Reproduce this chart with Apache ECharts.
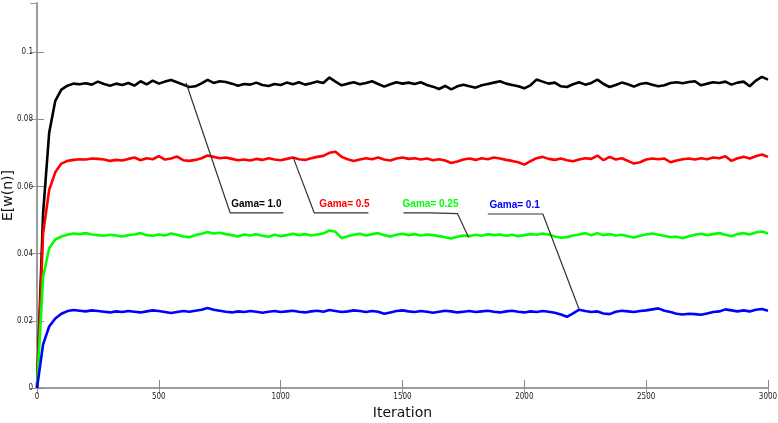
<!DOCTYPE html>
<html>
<head>
<meta charset="utf-8">
<script src="https://cdn.jsdelivr.net/npm/echarts@6/dist/echarts.min.js"></script>
<style>html,body{margin:0;padding:0;background:#fff}#c{width:778px;height:423px}</style>
</head>
<body>
<div id="c"></div>
<script>
const iterations = [
0,25,50,75,100,125,150,175,200,225,
250,275,300,325,350,375,400,425,450,475,
500,525,550,575,600,625,650,675,700,725,
750,775,800,825,850,875,900,925,950,975,
1000,1025,1050,1075,1100,1125,1150,1175,1200,1225,
1250,1275,1300,1325,1350,1375,1400,1425,1450,1475,
1500,1525,1550,1575,1600,1625,1650,1675,1700,1725,
1750,1775,1800,1825,1850,1875,1900,1925,1950,1975,
2000,2025,2050,2075,2100,2125,2150,2175,2200,2225,
2250,2275,2300,2325,2350,2375,2400,2425,2450,2475,
2500,2525,2550,2575,2600,2625,2650,2675,2700,2725,
2750,2775,2800,2825,2850,2875,2900,2925,2950,2975,
3000];

const gama10 = [
0,0.052,0.076,0.0855,0.0888,0.0900,0.0906,0.0904,0.0907,0.0903,
0.0912,0.0905,0.0900,0.0906,0.0902,0.0908,0.0900,0.0913,0.0904,0.0915,
0.0906,0.0912,0.0917,0.0910,0.0903,0.0896,0.0898,0.0907,0.0917,0.0908,
0.0913,0.0911,0.0906,0.0900,0.0905,0.0903,0.0909,0.0902,0.0899,0.0905,
0.0902,0.0909,0.0904,0.0910,0.0903,0.0907,0.0912,0.0908,0.0924,0.0912,
0.0901,0.0906,0.0910,0.0904,0.0908,0.0913,0.0905,0.0897,0.0904,0.0910,
0.0906,0.0909,0.0905,0.0910,0.0902,0.0897,0.0890,0.0899,0.0889,0.0898,
0.0903,0.0898,0.0894,0.0901,0.0905,0.0909,0.0913,0.0906,0.0902,0.0898,
0.0892,0.0901,0.0918,0.0912,0.0906,0.0909,0.0898,0.0896,0.0904,0.0910,
0.0903,0.0908,0.0918,0.0905,0.0896,0.0902,0.0909,0.0904,0.0897,0.0905,
0.0908,0.0903,0.0898,0.0901,0.0908,0.0910,0.0907,0.0911,0.0913,0.0901,
0.0906,0.0910,0.0908,0.0912,0.0903,0.0909,0.0912,0.0898,0.0915,0.0926,
0.0918];

const gama05 = [
0,0.046,0.059,0.0642,0.0668,0.0676,0.0679,0.0681,0.0680,0.0683,
0.0682,0.0680,0.0676,0.0679,0.0677,0.0682,0.0686,0.0678,0.0684,0.0681,
0.0690,0.0680,0.0683,0.0689,0.0678,0.0676,0.0679,0.0684,0.0692,0.0688,
0.0684,0.0686,0.0682,0.0678,0.0680,0.0677,0.0682,0.0679,0.0684,0.0680,
0.0678,0.0682,0.0686,0.0681,0.0679,0.0684,0.0688,0.0691,0.0700,0.0703,
0.0688,0.0681,0.0676,0.0680,0.0684,0.0681,0.0686,0.0680,0.0677,0.0683,
0.0686,0.0682,0.0684,0.0680,0.0683,0.0678,0.0681,0.0677,0.0670,0.0674,
0.0680,0.0683,0.0679,0.0684,0.0681,0.0686,0.0683,0.0679,0.0676,0.0672,
0.0665,0.0675,0.0684,0.0688,0.0682,0.0679,0.0683,0.0678,0.0675,0.0680,
0.0684,0.0682,0.0692,0.0678,0.0688,0.0680,0.0684,0.0676,0.0668,0.0672,
0.0680,0.0683,0.0681,0.0683,0.0672,0.0677,0.0681,0.0683,0.0680,0.0684,
0.0681,0.0686,0.0684,0.0690,0.0676,0.0684,0.0688,0.0683,0.0690,0.0695,
0.0688];

const gama025 = [
0,0.033,0.0416,0.0442,0.0451,0.0456,0.0460,0.0458,0.0461,0.0457,
0.0455,0.0453,0.0456,0.0454,0.0451,0.0455,0.0457,0.0461,0.0455,0.0453,
0.0457,0.0454,0.0460,0.0456,0.0451,0.0449,0.0455,0.0459,0.0464,0.0460,
0.0462,0.0458,0.0455,0.0451,0.0457,0.0454,0.0458,0.0453,0.0450,0.0456,
0.0452,0.0455,0.0459,0.0455,0.0458,0.0454,0.0457,0.0460,0.0469,0.0465,
0.0446,0.0452,0.0456,0.0459,0.0454,0.0458,0.0461,0.0455,0.0451,0.0456,
0.0459,0.0455,0.0458,0.0454,0.0457,0.0455,0.0452,0.0449,0.0445,0.0450,
0.0454,0.0452,0.0456,0.0453,0.0458,0.0455,0.0457,0.0453,0.0456,0.0452,
0.0455,0.0458,0.0456,0.0460,0.0457,0.0451,0.0447,0.0449,0.0454,0.0457,
0.0461,0.0455,0.0461,0.0455,0.0458,0.0454,0.0456,0.0452,0.0448,0.0453,
0.0457,0.0460,0.0456,0.0453,0.0449,0.0450,0.0446,0.0452,0.0456,0.0459,
0.0455,0.0458,0.0461,0.0456,0.0452,0.0458,0.0461,0.0457,0.0463,0.0466,
0.0460];

const gama01 = [
0,0.0130,0.0183,0.0207,0.0221,0.0229,0.0232,0.0230,0.0228,0.0231,
0.0229,0.0227,0.0225,0.0228,0.0226,0.0229,0.0227,0.0225,0.0228,0.0231,
0.0229,0.0226,0.0223,0.0226,0.0229,0.0227,0.0230,0.0233,0.0238,0.0233,
0.0230,0.0227,0.0225,0.0228,0.0226,0.0229,0.0227,0.0224,0.0227,0.0229,
0.0226,0.0228,0.0230,0.0227,0.0225,0.0228,0.0230,0.0227,0.0232,0.0229,
0.0226,0.0228,0.0231,0.0229,0.0226,0.0229,0.0227,0.0221,0.0225,0.0229,
0.0231,0.0228,0.0226,0.0229,0.0227,0.0224,0.0227,0.0230,0.0228,0.0225,
0.0227,0.0229,0.0226,0.0228,0.0230,0.0227,0.0225,0.0228,0.0230,0.0227,
0.0225,0.0228,0.0226,0.0229,0.0227,0.0224,0.0219,0.0212,0.0222,0.0233,
0.0229,0.0226,0.0228,0.0222,0.0220,0.0227,0.0230,0.0228,0.0226,0.0229,
0.0231,0.0234,0.0237,0.0230,0.0226,0.0221,0.0219,0.0221,0.0220,0.0218,
0.0222,0.0226,0.0228,0.0234,0.0231,0.0228,0.0231,0.0228,0.0233,0.0235,
0.0230];

const xTicks = [0, 500, 1000, 1500, 2000, 2500, 3000];
const yTicks = [0, 0.02, 0.04, 0.06, 0.08, 0.1];

const seriesNames = ['Gama= 1.0', 'Gama= 0.5', 'Gama= 0.25', 'Gama= 0.1'];
const seriesValues = [gama10, gama05, gama025, gama01];
const seriesColors = ['#000000', '#ff0000', '#00ff00', '#0000ff'];

// annotation leader paths (data coords), label placed at index labelAt
const annotPaths = [
  [[612, 0.0908], [793, 0.0521], [900, 0.0521], [1011, 0.0521]],
  [[1052, 0.0685], [1138, 0.0521], [1262, 0.0521], [1360, 0.0521]],
  [[1504, 0.0521], [1615, 0.0521], [1726, 0.0519], [1771, 0.0449]],
  [[1850, 0.0518], [1960, 0.0518], [2076, 0.0518], [2224, 0.0236]]
];
const annotLabelAt = [2, 2, 1, 1];

const chart = echarts.init(document.getElementById('c'), null, {renderer: 'canvas'});

const tickFont = "'Liberation Sans Narrow','DejaVu Sans Condensed','Liberation Sans',sans-serif";

const series = [];
seriesValues.forEach((vals, i) => {
  series.push({
    name: seriesNames[i],
    type: 'line',
    data: iterations.map((it, k) => [it, vals[k]]),
    showSymbol: false,
    symbol: 'none',
    lineStyle: {color: seriesColors[i], width: 2.6},
    silent: true,
    z: 2
  });
});
annotPaths.forEach((path, i) => {
  series.push({
    type: 'line',
    data: path,
    symbol: 'none',
    showSymbol: false,
    lineStyle: {color: '#333', width: 1.2},
    silent: true,
    z: 5,
    markPoint: {
      silent: true,
      symbol: 'rect',
      symbolSize: 1,
      itemStyle: {color: 'rgba(0,0,0,0)'},
      data: [{
        coord: path[annotLabelAt[i]],
        label: {
          show: true, position: 'top', distance: 3,
          formatter: seriesNames[i],
          color: seriesColors[i], fontSize: 10, fontWeight: 'bold',
          fontFamily: "'Liberation Sans','Arial',sans-serif"
        }
      }]
    }
  });
});

chart.setOption({
  animation: false,
  backgroundColor: '#ffffff',
  grid: {left: 37, right: 10, top: 3, bottom: 35, containLabel: false, outerBoundsMode: 'none'},
  xAxis: [{
    type: 'value', min: 0, max: 3000, interval: 500,
    name: 'Iteration', nameLocation: 'middle', nameGap: 18, nameMoveOverlap: false,
    nameTextStyle: {fontSize: 14, color: '#111', fontFamily: "'DejaVu Sans',sans-serif"},
    axisLine: {show: true, lineStyle: {color: '#a9a9c9', width: 2}},
    axisTick: {show: true, inside: true, length: 8, lineStyle: {color: '#888', width: 1}},
    axisLabel: {fontSize: 8, color: '#222', margin: 5, fontFamily: tickFont, formatter: v => String(v)},
    splitLine: {show: false}
  }, {
    type: 'value', min: 0, max: 3000, interval: 500, position: 'top',
    axisLine: {show: true, lineStyle: {color: '#999', width: 1.5}},
    axisTick: {show: true, inside: true, length: 6, lineStyle: {color: '#999'}},
    axisLabel: {show: false}, splitLine: {show: false}
  }],
  yAxis: [{
    type: 'value', min: 0, max: 0.1146, interval: 0.02,
    name: 'E[w(n)]', nameLocation: 'middle', nameGap: 22, nameMoveOverlap: false,
    nameTextStyle: {fontSize: 14, color: '#111', fontFamily: "'DejaVu Sans',sans-serif"},
    axisLine: {show: true, lineStyle: {color: '#888', width: 1.5}},
    axisTick: {show: true, inside: true, length: 7, lineStyle: {color: '#888'}},
    axisLabel: {fontSize: 8, color: '#222', margin: 4, showMaxLabel: false, fontFamily: tickFont,
      formatter: v => String(+v.toFixed(3))},
    splitLine: {show: false}
  }, {
    type: 'value', min: 0, max: 0.1146, interval: 0.02, position: 'right',
    axisLine: {show: true, lineStyle: {color: '#999', width: 1.5}},
    axisTick: {show: true, inside: true, length: 7, lineStyle: {color: '#999'}},
    axisLabel: {show: false}, splitLine: {show: false}
  }],
  series: series
});
</script>
</body>
</html>
